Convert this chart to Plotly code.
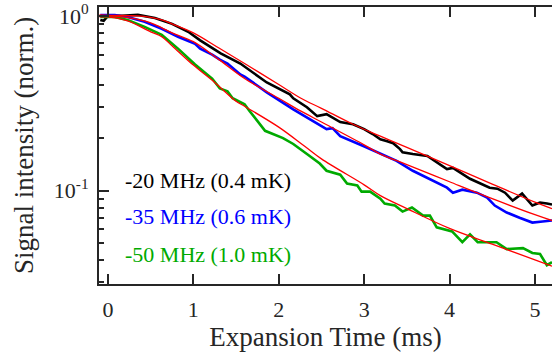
import plotly.graph_objects as go

# ---- data ----
t_black = [-0.09, -0.05, 0.0, 0.16, 0.35, 0.55, 0.75, 0.94, 1.08, 1.32, 1.55, 1.86, 2.13, 2.17,
           2.33, 2.45, 2.56, 2.72, 2.87, 3.0, 3.10, 3.19, 3.27, 3.34, 3.42, 3.45, 3.57, 3.74,
           3.97, 4.04, 4.24, 4.36, 4.47, 4.56, 4.65, 4.74, 4.85, 4.97, 5.06, 5.14, 5.20]
v_black = [0.949, 0.937, 1.0, 1.0, 1.013, 0.974, 0.901, 0.811, 0.725, 0.61, 0.534, 0.416, 0.356, 0.338,
           0.30, 0.267, 0.274, 0.247, 0.24, 0.225, 0.211, 0.197, 0.192, 0.187, 0.173, 0.166, 0.162, 0.158,
           0.133, 0.135, 0.117, 0.1097, 0.104, 0.1027, 0.0974, 0.0877, 0.0962, 0.0822, 0.0855, 0.0844, 0.0833]

t_blue = [-0.09, 0.08, 0.23, 0.43, 0.63, 0.82, 1.02, 1.08, 1.22, 1.31, 1.40, 1.55, 1.60, 1.86, 2.17,
          2.40, 2.56, 2.63, 2.72, 2.99, 3.19, 3.38, 3.57, 3.74, 3.81, 3.97, 4.04, 4.15, 4.32, 4.44,
          4.53, 4.67, 4.82, 4.97, 5.09, 5.20]
v_blue = [1.013, 1.013, 0.987, 0.925, 0.844, 0.76, 0.693, 0.65, 0.60, 0.562, 0.534, 0.462, 0.45, 0.365, 0.292,
          0.25, 0.225, 0.228, 0.205, 0.18, 0.162, 0.148, 0.13, 0.118, 0.1138, 0.104, 0.0974, 0.1013, 0.0974, 0.0912,
          0.0822, 0.075, 0.070, 0.0657, 0.0666, 0.0675]

t_green = [-0.09, 0.08, 0.23, 0.43, 0.63, 0.82, 1.02, 1.08, 1.22, 1.31, 1.40, 1.46, 1.60, 1.66, 1.84,
           2.05, 2.17, 2.33, 2.48, 2.56, 2.72, 2.80, 2.92, 2.97, 3.07, 3.19, 3.24, 3.36, 3.45, 3.56,
           3.69, 3.77, 3.85, 4.03, 4.15, 4.24, 4.33, 4.55, 4.67, 4.86, 4.97, 5.06, 5.14, 5.20]
v_green = [0.987, 0.987, 0.949, 0.866, 0.78, 0.65, 0.527, 0.50, 0.438, 0.385, 0.37, 0.338, 0.312, 0.285, 0.22,
           0.20, 0.185, 0.162, 0.143, 0.13, 0.1235, 0.1097, 0.107, 0.0987, 0.0987, 0.09, 0.0844, 0.0822, 0.0759, 0.0801,
           0.072, 0.072, 0.0617, 0.0585, 0.0507, 0.0562, 0.0507, 0.0507, 0.0463, 0.0469, 0.044, 0.0434, 0.0375, 0.039]

t_fit_black = [-0.1, 0.0, 0.35, 0.5, 0.63, 0.75, 1.0, 1.3, 1.6, 2.0, 2.26, 2.5, 2.87, 3.19, 3.5, 4.0, 4.5, 5.0, 5.2]
v_fit_black = [1.013, 1.007, 1.0, 0.98, 0.949, 0.901, 0.80, 0.655, 0.534, 0.405, 0.338, 0.296, 0.24, 0.205,
               0.177, 0.139, 0.109, 0.086, 0.079]

t_fit_blue = [-0.1, 0.0, 0.25, 0.5, 0.63, 0.75, 1.0, 1.3, 1.6, 2.0, 2.26, 2.5, 3.0, 3.19, 3.5, 4.0, 4.5, 5.0, 5.2]
v_fit_blue = [1.0, 1.0, 0.974, 0.913, 0.855, 0.80, 0.712, 0.562, 0.438, 0.338, 0.285, 0.247, 0.183, 0.162,
              0.141, 0.1125, 0.09, 0.0729, 0.0675]

t_fit_green = [-0.1, 0.0, 0.23, 0.5, 0.63, 0.75, 1.0, 1.25, 1.5, 1.6, 2.0, 2.3, 2.5, 3.0, 3.19, 3.5, 4.0, 4.5, 5.0, 5.2]
v_fit_green = [0.987, 0.987, 0.937, 0.811, 0.76, 0.675, 0.523, 0.416, 0.325, 0.304, 0.231, 0.18, 0.152, 0.108,
               0.0937, 0.079, 0.0608, 0.0494, 0.0402, 0.037]

labels = ["-20 MHz (0.4 mK)", "-35 MHz (0.6 mK)", "-50 MHz (1.0 mK)"]
label_y = [0.373, 0.244, 0.1075]

x_ticks = [0, 1, 2, 3, 4, 5]
y_ticks = [0.1, 1]
y_ticktext = ["10<sup>-1</sup>", "10<sup>0</sup>"]
y_minor = [0.03, 0.04, 0.05, 0.06, 0.07, 0.08, 0.09, 0.2, 0.3, 0.4, 0.5, 0.6, 0.7, 0.8, 0.9]
y_range = [-1.534, 0.051]

BLACK = "#000000"
BLUE = "#0000ff"
GREEN = "#00aa00"
RED = "#ff0000"
AX = "#262626"
FONT = "Liberation Serif, Times New Roman, serif"

fig = go.Figure()
for t, v, c in [(t_black, v_black, BLACK), (t_blue, v_blue, BLUE), (t_green, v_green, GREEN)]:
    fig.add_trace(go.Scatter(x=t, y=v, mode="lines", line=dict(color=c, width=2.6), showlegend=False))
for t, v in [(t_fit_black, v_fit_black), (t_fit_blue, v_fit_blue), (t_fit_green, v_fit_green)]:
    fig.add_trace(go.Scatter(x=t, y=v, mode="lines", line=dict(color=RED, width=1.3, shape="spline"),
                             showlegend=False))

for txt, yy, c in zip(labels, label_y, [BLACK, BLUE, GREEN]):
    fig.add_annotation(x=0.176, y=yy, xref="x", yref="paper", text=txt, showarrow=False,
                       xanchor="left", yanchor="middle", font=dict(family=FONT, size=22, color=c))

fig.update_layout(
    width=552, height=356,
    margin=dict(l=99, r=0, t=5, b=72),
    paper_bgcolor="white", plot_bgcolor="white",
    font=dict(family=FONT, color=AX),
    yaxis2=dict(
        overlaying="y", side="right", type="log", range=y_range, tickmode="array", tickvals=y_ticks,
        showticklabels=False, ticks="inside", ticklen=6, tickwidth=2, tickcolor=AX,
        minor=dict(tickmode="array", tickvals=y_minor, ticks="inside", ticklen=3, tickwidth=2, tickcolor="#9a9a9a"),
        showline=False, showgrid=False, zeroline=False,
    ),
)
fig.update_xaxes(
    range=[-0.105, 5.2], tickvals=x_ticks, ticks="inside", ticklen=10, tickwidth=2, tickcolor=AX,
    showline=True, linewidth=2, linecolor=AX, mirror="allticks", showgrid=False, zeroline=False,
    tickfont=dict(family=FONT, size=22, color=AX), ticklabelstandoff=5, ticklabeloverflow="allow",
    automargin=True,
    title=dict(text="Expansion Time (ms)", font=dict(family=FONT, size=27, color=AX), standoff=4),
)
fig.update_yaxes(
    selector=dict(anchor="x"), overwrite=False,
)
fig.update_layout(yaxis=dict(
    type="log", range=y_range, tickmode="array", tickvals=y_ticks, ticktext=y_ticktext,
    ticks="inside", ticklen=10, tickwidth=2, tickcolor=AX,
    minor=dict(tickmode="array", tickvals=y_minor, ticks="inside", ticklen=5, tickwidth=2, tickcolor=AX),
    showline=True, linewidth=2, linecolor=AX, mirror=False, showgrid=False, zeroline=False,
    tickfont=dict(family=FONT, size=22, color=AX), ticklabelstandoff=4, ticklabeloverflow="allow",
    automargin=True,
    title=dict(text="Signal intensity (norm.)", font=dict(family=FONT, size=27, color=AX), standoff=12),
))

fig.write_html("out.html")
